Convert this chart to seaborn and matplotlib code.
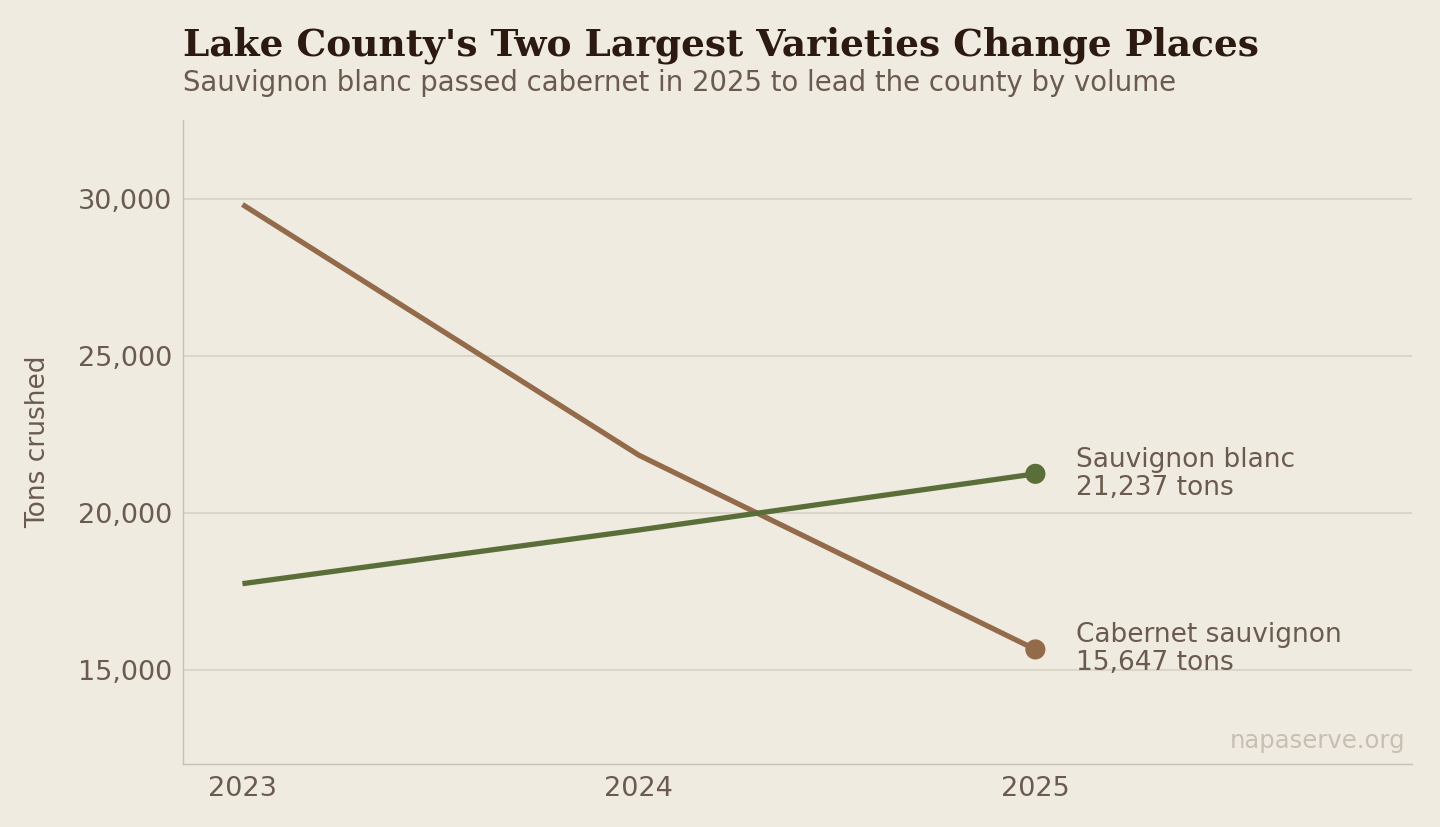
import matplotlib
matplotlib.use("Agg")
import matplotlib.pyplot as plt
import seaborn as sns
import pandas as pd
from matplotlib.ticker import FuncFormatter

years = [2023, 2024, 2025]
cabernet = [29810, 21830, 15647]
sauv_blanc = [17740, 19450, 21237]
series_names = ["Cabernet sauvignon", "Sauvignon blanc"]
y_ticks = [15000, 20000, 25000, 30000]

BG = "#efebe1"
BROWN = "#936b4a"
GREEN = "#5a6e3a"
TEXT = "#6b5a4e"
TITLE = "#2c1a10"
GRID = "#dcd5c9"
SPINE = "#c8c0b4"

df = pd.DataFrame({
    "year": years * 2,
    "tons": cabernet + sauv_blanc,
    "variety": [series_names[0]] * 3 + [series_names[1]] * 3,
})
palette = {series_names[0]: BROWN, series_names[1]: GREEN}

sns.set_theme(style="white")
plt.rcParams["font.family"] = ["DejaVu Sans"]

fig = plt.figure(figsize=(14.4, 8.27), dpi=100, facecolor=BG)
ax = fig.add_axes([183/1440, 1-764/827, (1412-183)/1440, (764-120)/827])
ax.set_facecolor(BG)

sns.lineplot(data=df, x="year", y="tons", hue="variety", palette=palette,
             linewidth=3.8, ax=ax, legend=False, solid_capstyle="butt")
last = df[df["year"] == years[-1]]
sns.scatterplot(data=last, x="year", y="tons", hue="variety", palette=palette,
                s=210, edgecolor="none", ax=ax, legend=False, zorder=5)

for _, r in last.iterrows():
    ax.annotate(f"{r['variety']}\n{r['tons']:,.0f} tons", (r["year"], r["tons"]),
                xytext=(29.5, 0), textcoords="offset points", va="center", ha="left",
                fontsize=19, color=TEXT, linespacing=1.1)

ax.set_xlim(2022.85, 2025.95)
ax.set_ylim(12000, 32500)
ax.set_xticks(years)
ax.set_xticklabels([str(y) for y in years])
ax.set_yticks(y_ticks)
ax.yaxis.set_major_formatter(FuncFormatter(lambda v, p: f"{v:,.0f}"))
ax.tick_params(axis="both", length=0, labelsize=19.5, labelcolor=TEXT)
ax.tick_params(axis="y", pad=8)
ax.tick_params(axis="x", pad=9)
ax.grid(axis="y", color=GRID, linewidth=1.5)
ax.grid(axis="x", visible=False)
ax.set_axisbelow(True)
for s in ["top", "right"]:
    ax.spines[s].set_visible(False)
for s in ["left", "bottom"]:
    ax.spines[s].set_color(SPINE)
    ax.spines[s].set_linewidth(1.0)

ax.set_xlabel("")
ax.set_ylabel("Tons crushed", fontsize=19, color=TEXT, labelpad=19)

ax.text(0.995, 0.025, "napaserve.org", transform=ax.transAxes, ha="right",
        va="baseline", fontsize=17.5, color="#c8bfb2")

fig.text(183/1440, 1-55/827, "Lake County's Two Largest Varieties Change Places",
         fontfamily="DejaVu Serif", fontweight="bold", fontsize=27, color=TITLE,
         ha="left", va="baseline")
fig.text(183/1440, 1-91/827, "Sauvignon blanc passed cabernet in 2025 to lead the county by volume",
         fontsize=19.8, color=TEXT, ha="left", va="baseline")

fig.savefig("out.png", dpi=100, facecolor=BG)
